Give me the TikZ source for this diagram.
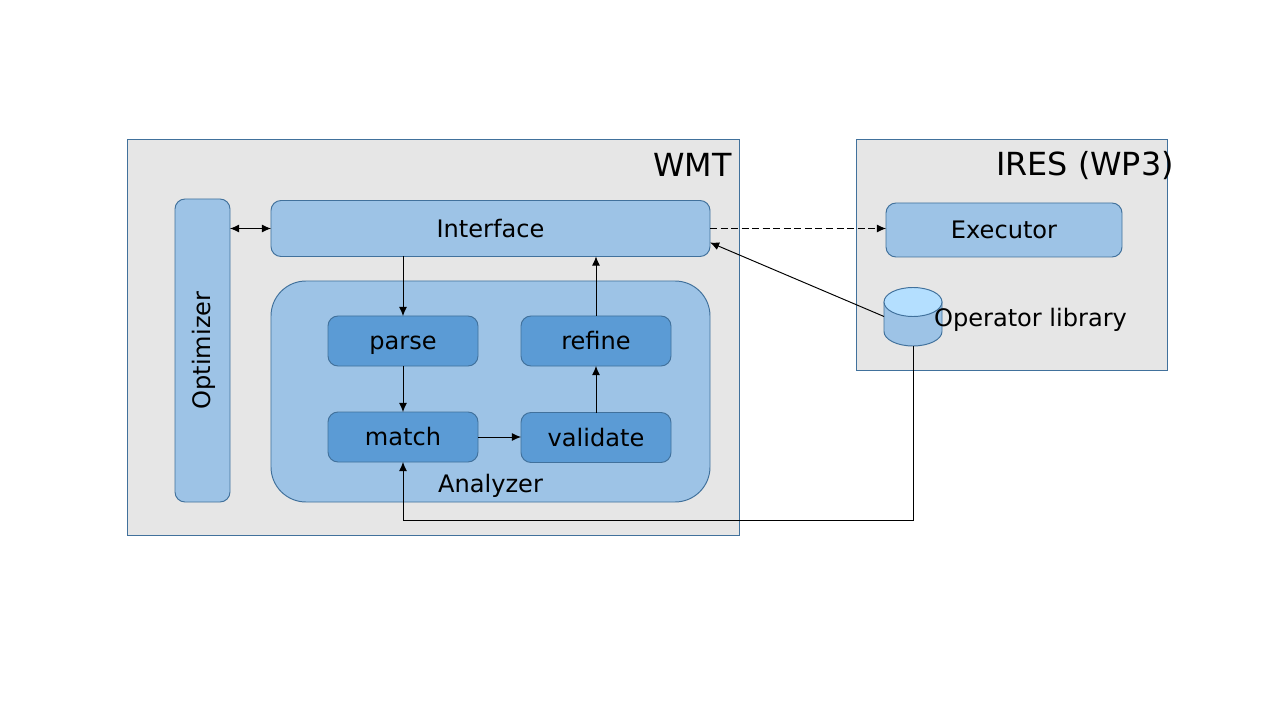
\documentclass[tikz,border=0pt]{standalone}
\usepackage{fontspec}
\setmainfont{DejaVu Sans}
\usetikzlibrary{calc,arrows.meta}
\definecolor{bgbox}{HTML}{E6E6E6}
\definecolor{lightblue}{HTML}{9DC3E6}
\definecolor{darkblue}{HTML}{5B9BD5}
\definecolor{topblue}{HTML}{B4DFFF}
\definecolor{edgeblue}{HTML}{41719C}
\tikzset{
    container/.style={draw=edgeblue,fill=bgbox,line width=0.55pt,inner sep=0pt,outer sep=0pt},
    block/.style={draw=edgeblue,fill=lightblue,line width=0.55pt,rounded corners=2mm,inner sep=0pt,outer sep=0pt,font=\fontsize{13.7}{16}\selectfont,text height=13pt,text depth=2.9pt},
    step box/.style={block,fill=darkblue,minimum width=30mm,minimum height=10mm},
    caption/.style={font=\fontsize{13.7}{16}\selectfont,inner sep=0pt},
    title/.style={font=\fontsize{18.1}{22}\selectfont,inner sep=0pt},
    link/.style={-{Latex[length=5.2pt,width=4.6pt]},line width=0.55pt},
  }
\begin{document}
\begin{tikzpicture}[x=0.2mm,y=-0.2mm]
	\useasboundingbox (0,0) rectangle (1280,720);

	%WMT
	\node[container,minimum width=122.4mm,minimum height=79.2mm] (wmt) at (433.3,337) {};
	\node[title] (wmtTitle) at (692.5,165) {WMT};
	\node[block,minimum width=11mm,minimum height=60.6mm,text height=,text depth=] (optimizer) at (202.5,350.5) {\hspace*{2pt}\rotatebox{90}{Optimizer}};
	\node[block,minimum width=87.8mm,minimum height=11.2mm] (interface) at (490.5,228.5) {Interface};
	\node[block,rounded corners=7mm,minimum width=87.8mm,minimum height=44.2mm] (analyzer) at (490.5,391.5) {};
	\node[caption] (analyzerText) at (490.5,486) {Analyzer};

	%STEPS
	\node[step box] (parse) at (403,341) {parse};
	\node[step box] (refine) at (596,341) {refine};
	\node[step box] (match) at (403,437) {match};
	\node[step box] (validate) at (596,437.5) {validate};

	%IRES
	\node[container,minimum width=62.2mm,minimum height=46.2mm] (ires) at (1011.5,254.5) {};
	\node[title] (iresTitle) at (1085,166) {IRES (WP3)};
	\node[block,minimum width=47.2mm,minimum height=10.8mm] (executor) at (1004,230) {Executor};

	%CYLINDER
	\node[inner sep=0pt,outer sep=0pt,minimum width=11.6mm,minimum height=11.8mm] (oplib) at (913,316.5) {};
	\draw[draw=edgeblue,fill=lightblue,line width=0.55pt] (oplib.west |- 0,302) -- (oplib.west |- 0,331.5) arc[start angle=180,end angle=0,x radius=29,y radius=14.5] -- (oplib.east |- 0,302) -- cycle;
	\draw[draw=edgeblue,fill=topblue,line width=0.55pt] (913,302) ellipse[x radius=29,y radius=14.5];
	\node[caption] (oplibText) at (1030.5,319.5) {Operator library};

	%ARROWS
	\draw[{Latex[length=5.2pt,width=4.6pt]}-{Latex[length=5.2pt,width=4.6pt]},line width=0.55pt] (optimizer.east |- interface.west) -- (interface.west);
	\draw[link] (parse.north |- interface.south) -- (parse.north);
	\draw[link] (parse) -- (match);
	\draw[link] (match) -- (validate.west |- match);
	\draw[link] (validate) -- (refine);
	\draw[link] (refine.north) -- (refine.north |- interface.south);
	\draw[link,dash pattern=on 4pt off 2pt] (interface.east) -- (executor.west |- interface.east);
	\draw[link] (oplib.west) -- ($(interface.north east)!0.75!(interface.south east)$);
	\draw[link] (oplib.south) -- ++(0,174) -| (match.south);
\end{tikzpicture}
\end{document}
